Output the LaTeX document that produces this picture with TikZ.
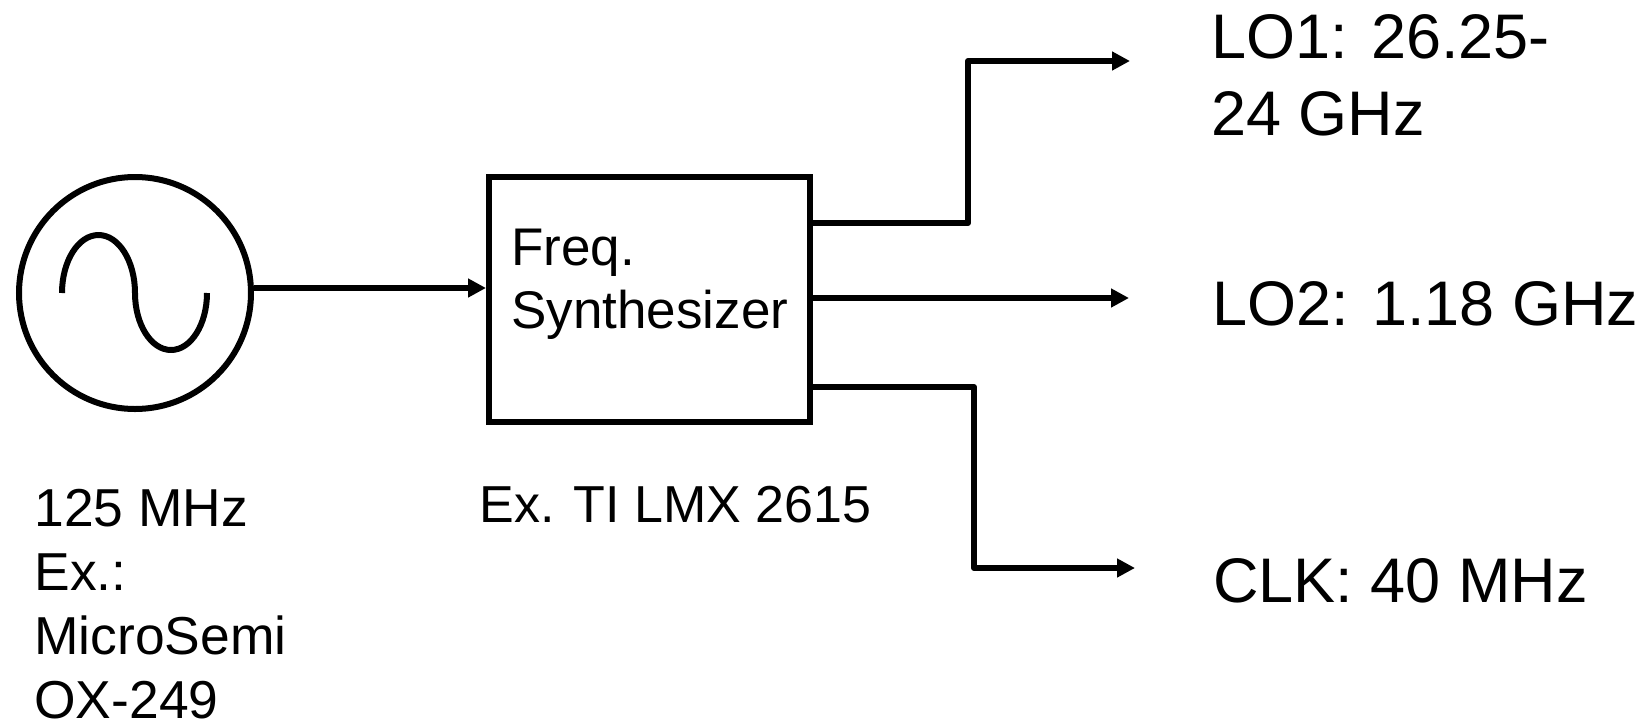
\documentclass[tikz,border=0pt]{standalone}
\usepackage{fontspec}
\setmainfont{Liberation Sans}
\usetikzlibrary{arrows.meta,calc}
\begin{document}
\begin{tikzpicture}[x=0.5pt,y=-0.5pt,
  wire/.style={line width=3pt,line join=round},
  arr/.style={wire,-{Triangle[length=9pt,width=9pt]}},
  bigtxt/.style={inner sep=0pt,anchor=base west,align=left,font=\fontsize{31.5pt}{38.5pt}\selectfont},
  smalltxt/.style={inner sep=0pt,anchor=base west,align=left,font=\fontsize{26.7pt}{31.85pt}\selectfont}]
\useasboundingbox[fill=white] (0,0) rectangle (1650,723);
% oscillator
\node[circle,draw,line width=3pt,minimum size=116pt,inner sep=0pt] (osc) at (135,293) {};
\draw[wire] (62,293) arc[start angle=180,end angle=360,x radius=36.5,y radius=58]
            arc[start angle=180,end angle=0,x radius=36,y radius=57];
% synthesizer box
\node[draw,line width=3pt,minimum width=160.5pt,minimum height=122.5pt,inner sep=0pt] (box) at (649.5,299.5) {};
\node[font=\fontsize{26.5pt}{31.5pt}\selectfont,inner sep=0pt,anchor=base west,align=left] (synth) at (511,328) {Freq.\\Synthesizer};
% labels (multi-line nodes anchored at the baseline of their last line)
\node[smalltxt] (osclbl) at (34,718) {125 MHz\\Ex.:\\MicroSemi\\OX-249};
\node[font=\fontsize{26pt}{31.85pt}\selectfont,inner sep=0pt,anchor=base west] (boxlbl) at (479,522) {Ex. TI LMX 2615};
\node[bigtxt] (lo1) at (1211,135) {LO1: 26.25-\\24 GHz};
\node[bigtxt] (lo2) at (1212,325) {LO2: 1.18 GHz};
\node[bigtxt] (clk) at (1213,602) {CLK: 40 MHz};
% coordinates
\coordinate (yin) at (0,288);
\coordinate (y1) at (0,223);
\coordinate (k1) at (968,61);
\coordinate (t1) at (1130,61);
\coordinate (y2) at (0,298);
\coordinate (t2) at (1129,298);
\coordinate (y3) at (0,387);
\coordinate (k3) at (974,568);
\coordinate (t3) at (1135,568);
% connectors
\draw[arr] (osc.east |- yin) -- (box.west |- yin);
\draw[arr] (box.east |- y1) -- (k1 |- y1) -- (k1) -- (t1);
\draw[arr] (box.east |- y2) -- (t2);
\draw[arr] (box.east |- y3) -- (k3 |- y3) -- (k3) -- (t3);
\end{tikzpicture}
\end{document}
